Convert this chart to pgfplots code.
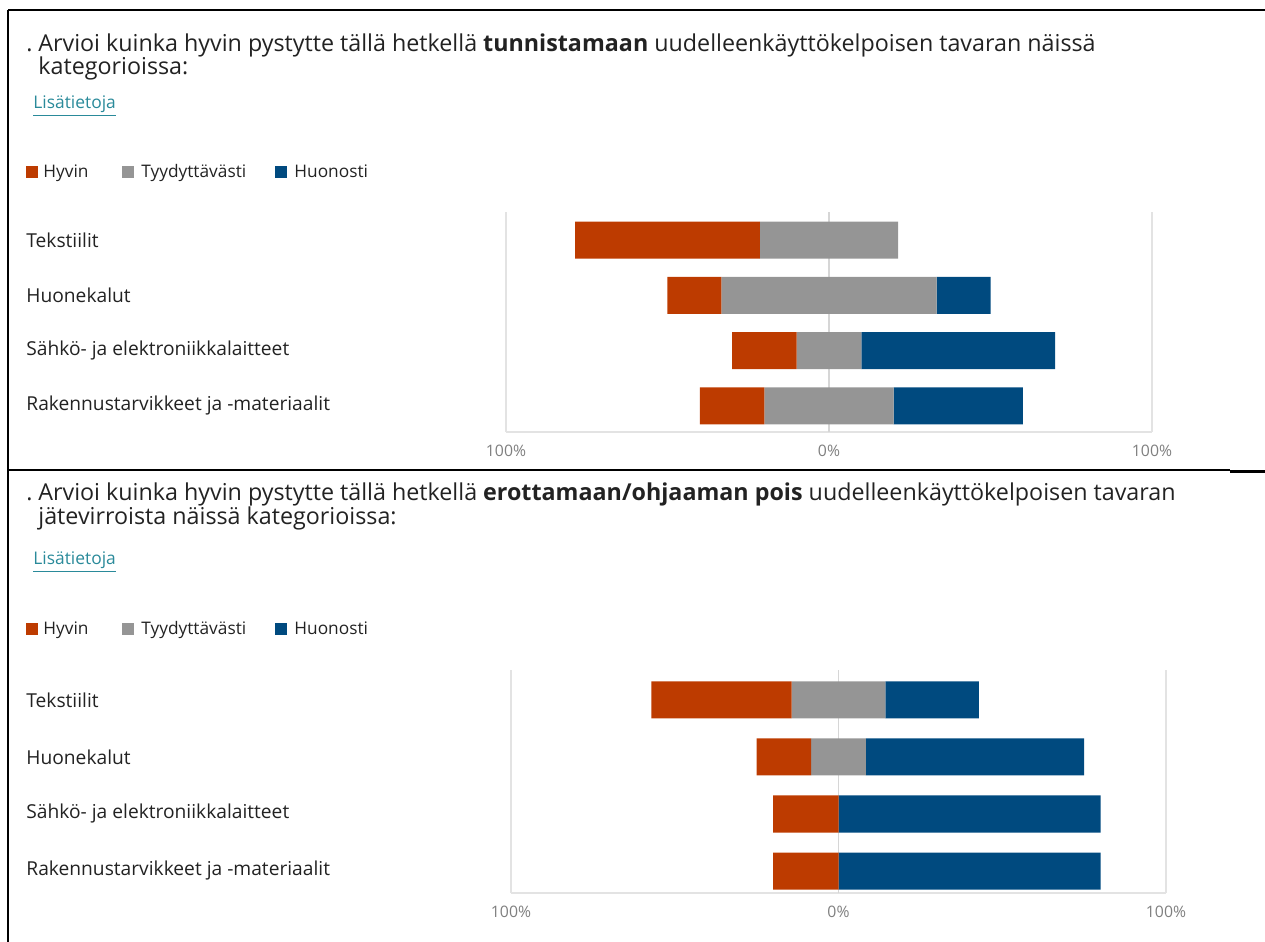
\documentclass[border=0pt]{standalone}
\usepackage{pgfplots}
\pgfplotsset{compat=1.18}
\usepackage{fontspec}
\setmainfont{Open Sans}
\definecolor{cred}{HTML}{BD3B00}
\definecolor{cgray}{HTML}{959595}
\definecolor{cblue}{HTML}{004A7F}
\definecolor{cgrid}{HTML}{E3E3E3}
\definecolor{czero}{HTML}{D6D6D6}
\definecolor{ctick}{HTML}{7F7F7F}
\definecolor{clink}{HTML}{2A8A9A}
\definecolor{ctext}{HTML}{222222}
\newcommand{\ttl}{\fontsize{11.64}{13}\selectfont}
\newcommand{\lgd}{\fontsize{8.65}{10}\selectfont}
\pgfplotsset{
  likert/.style={
    scale only axis,
    xbar stacked,
    stack negative=on previous,
    bar width=18.5pt,
    xmin=-100, xmax=100,
    xtick={-100,0,100},
    xticklabels={100\%,0\%,100\%},
    ytick={0,1,2,3},
    yticklabels={Rakennustarvikkeet ja -materiaalit,Sähkö- ja elektroniikkalaitteet,Huonekalut,Tekstiilit},
    axis x line*=bottom,
    axis y line*=left,
    x axis line style={draw=cgrid, line width=0.8pt, -},
    y axis line style={draw=none},
    major tick length=0pt,
    xmajorgrids,
    grid style={draw=cgrid, line width=0.8pt},
    /pgf/number format/assume math mode=true,
    xticklabel style={font=\fontsize{7.9}{9}\selectfont, text=ctick, yshift=-3pt},
    yticklabel style={font=\fontsize{9.6}{11}\selectfont, text=ctext, anchor=west, inner sep=0pt},
  }
}
\begin{document}
\begin{tikzpicture}
\begin{scope}[x=0.5pt,y=-0.5pt]
\path[use as bounding box] (0,0) rectangle (1265,942);
\draw[black, line width=1pt] (8,10) -- (1265,10);
\draw[black, line width=1pt] (8,10) -- (8,942);
\draw[black, line width=1pt] (8,470) -- (1230,470);
\draw[black, line width=1.4pt] (1230,471.5) -- (1265,471.5);
% --- top panel texts
\node[anchor=base west, inner sep=0, font=\ttl, text=ctext] at (26,51) {.};
\node[anchor=base west, inner sep=0, font=\ttl, text=ctext] at (38,51) {Arvioi kuinka hyvin pystytte tällä hetkellä \textbf{tunnistamaan} uudelleenkäyttökelpoisen tavaran näissä};
\node[anchor=base west, inner sep=0, font=\ttl, text=ctext] at (38,75) {kategorioissa:};
\node[anchor=base west, inner sep=0, font=\fontsize{8.7}{10}\selectfont, text=clink] at (33,108) {\underline{Lisätietoja}};
\fill[cred] (26,166) rectangle (38,178);
\node[anchor=base west, inner sep=0, font=\lgd, text=ctext] at (43,177) {Hyvin};
\fill[cgray] (122,166) rectangle (134,178);
\node[anchor=base west, inner sep=0, font=\lgd, text=ctext] at (141,177) {Tyydyttävästi};
\fill[cblue] (275,166) rectangle (287,178);
\node[anchor=base west, inner sep=0, font=\lgd, text=ctext] at (294,177) {Huonosti};
% --- bottom panel texts
\node[anchor=base west, inner sep=0, font=\ttl, text=ctext] at (26,500) {.};
\node[anchor=base west, inner sep=0, font=\ttl, text=ctext] at (38,500) {Arvioi kuinka hyvin pystytte tällä hetkellä \textbf{erottamaan/ohjaaman pois} uudelleenkäyttökelpoisen tavaran};
\node[anchor=base west, inner sep=0, font=\ttl, text=ctext] at (38,524) {jätevirroista näissä kategorioissa:};
\node[anchor=base west, inner sep=0, font=\fontsize{8.7}{10}\selectfont, text=clink] at (33,564) {\underline{Lisätietoja}};
\fill[cred] (26,623) rectangle (38,635);
\node[anchor=base west, inner sep=0, font=\lgd, text=ctext] at (43,634) {Hyvin};
\fill[cgray] (122,623) rectangle (134,635);
\node[anchor=base west, inner sep=0, font=\lgd, text=ctext] at (141,634) {Tyydyttävästi};
\fill[cblue] (275,623) rectangle (287,635);
\node[anchor=base west, inner sep=0, font=\lgd, text=ctext] at (294,634) {Huonosti};
\end{scope}
% ===== top chart
\begin{axis}[likert,
  at={(253pt,-216pt)}, anchor=south west,
  width=323pt, height=110pt,
  ymin=-0.473, ymax=3.509,
  yticklabel style={xshift=-240pt},
]
\addplot[draw=none, fill=none] coordinates {(-40,0) (-30,1) (-50,2) (-78.57,3)};
\addplot[draw=none, fill=cred] coordinates {(20,0) (20,1) (16.67,2) (57.14,3)};
\addplot[draw=none, fill=cgray] coordinates {(40,0) (20,1) (66.67,2) (42.86,3)};
\addplot[draw=none, fill=cblue] coordinates {(40,0) (60,1) (16.67,2) (0,3)};
\draw[czero, line width=0.8pt] (axis cs:0,-0.473) -- (axis cs:0,3.509);
\end{axis}
% ===== bottom chart
\begin{axis}[likert,
  at={(255.5pt,-446.5pt)}, anchor=south west,
  width=327.5pt, height=111.5pt,
  ymin=-0.386, ymax=3.526,
  yticklabel style={xshift=-242.5pt},
]
\addplot[draw=none, fill=none] coordinates {(-20,0) (-20,1) (-25,2) (-57.14,3)};
\addplot[draw=none, fill=cred] coordinates {(20,0) (20,1) (16.67,2) (42.86,3)};
\addplot[draw=none, fill=cgray] coordinates {(0,0) (0,1) (16.67,2) (28.57,3)};
\addplot[draw=none, fill=cblue] coordinates {(80,0) (80,1) (66.67,2) (28.57,3)};
\draw[czero, line width=0.8pt] (axis cs:0,-0.386) -- (axis cs:0,3.526);
\end{axis}
\end{tikzpicture}
\end{document}
